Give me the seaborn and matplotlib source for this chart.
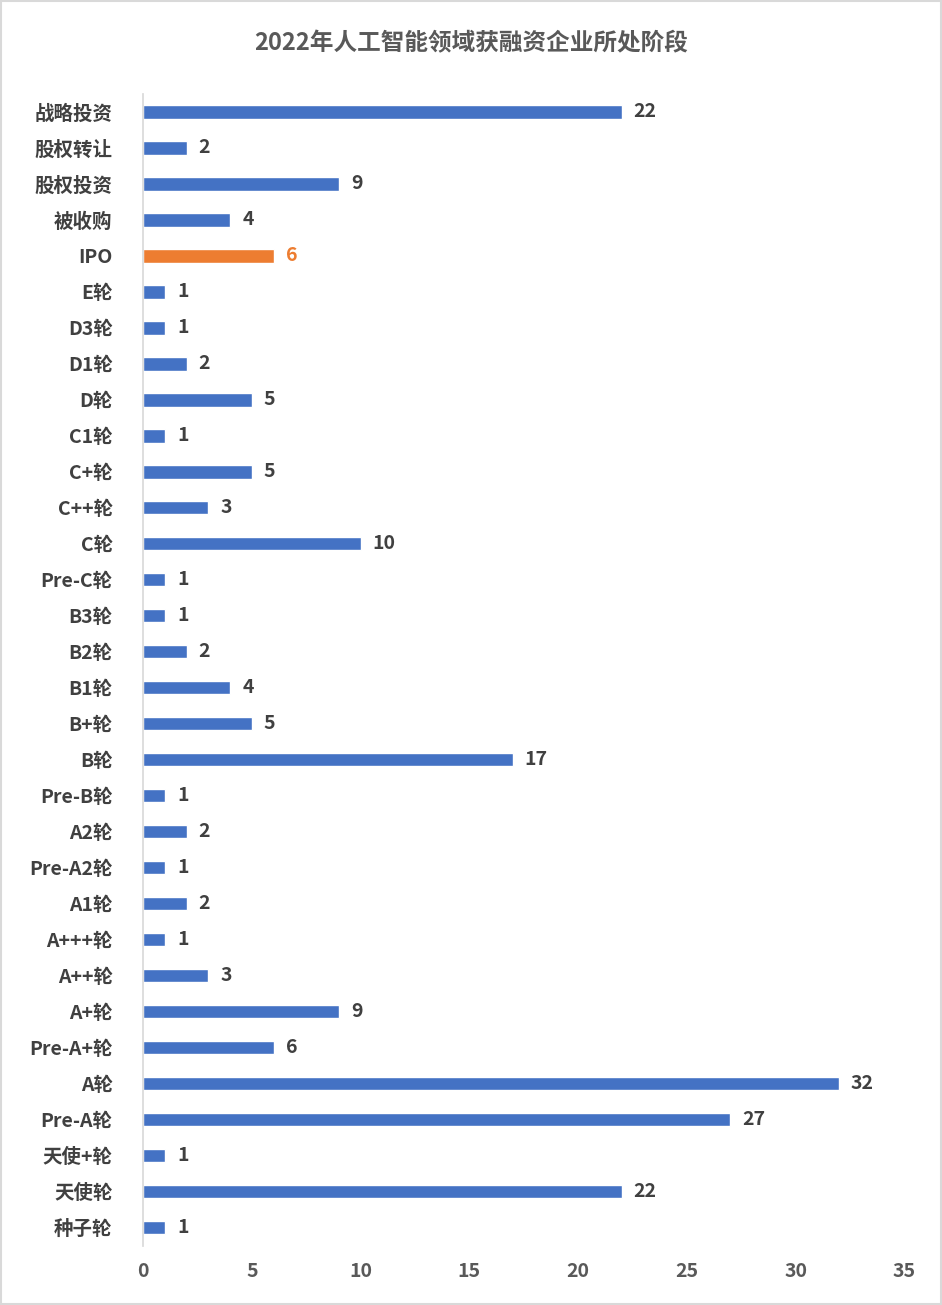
import matplotlib
matplotlib.use("Agg")
import matplotlib.pyplot as plt
import pandas as pd
import seaborn as sns

categories = ["战略投资", "股权转让", "股权投资", "被收购", "IPO", "E轮", "D3轮", "D1轮", "D轮",
              "C1轮", "C+轮", "C++轮", "C轮", "Pre-C轮", "B3轮", "B2轮", "B1轮", "B+轮", "B轮",
              "Pre-B轮", "A2轮", "Pre-A2轮", "A1轮", "A+++轮", "A++轮", "A+轮", "Pre-A+轮",
              "A轮", "Pre-A轮", "天使+轮", "天使轮", "种子轮"]
values = [22, 2, 9, 4, 6, 1, 1, 2, 5, 1, 5, 3, 10, 1, 1, 2, 4, 5, 17,
          1, 2, 1, 2, 1, 3, 9, 6, 32, 27, 1, 22, 1]
highlight = "IPO"

BLUE, ORANGE = "#4472C4", "#ED7D31"
plt.rcParams["font.family"] = ["Noto Sans CJK SC", "DejaVu Sans"]
sns.set_theme(style="white", rc={"font.family": ["Noto Sans CJK SC", "DejaVu Sans"]})

df = pd.DataFrame({"stage": categories, "count": values})
palette = {c: (ORANGE if c == highlight else BLUE) for c in categories}

fig = plt.figure(figsize=(9.42, 13.05), dpi=100)
ax = fig.add_axes([0.152, 0.0455, 0.808, 0.8825])
sns.barplot(data=df, x="count", y="stage", hue="stage", palette=palette,
            order=categories, width=0.37, legend=False, ax=ax, saturation=1)

for i, (c, v) in enumerate(zip(categories, values)):
    ax.text(v + 0.55, i, str(v), va="center", ha="left", fontsize=14, fontweight="bold",
            color=ORANGE if c == highlight else "#404040")

ax.set_xlim(0, 35)
ax.set_ylim(len(categories) - 0.5, -0.5)
ax.set_xticks(range(0, 36, 5))
ax.set_xlabel("")
ax.set_ylabel("")
ax.tick_params(axis="x", labelsize=14, colors="#595959", length=0, pad=12)
ax.tick_params(axis="y", labelsize=14, colors="#404040", length=0, pad=22)
for lab in ax.get_xticklabels() + ax.get_yticklabels():
    lab.set_fontweight("bold")
for s in ["top", "right", "bottom"]:
    ax.spines[s].set_visible(False)
ax.spines["left"].set_color("#D9D9D9")

fig.text(0.5, 0.967, "2022年人工智能领域获融资企业所处阶段", ha="center", va="center",
         fontsize=17, fontweight="bold", color="#595959")
fig.patches.append(plt.Rectangle((0.001, 0.001), 0.998, 0.998, transform=fig.transFigure,
                                 fill=False, edgecolor="#D9D9D9", linewidth=1.5))
fig.savefig("out.png", dpi=100)
